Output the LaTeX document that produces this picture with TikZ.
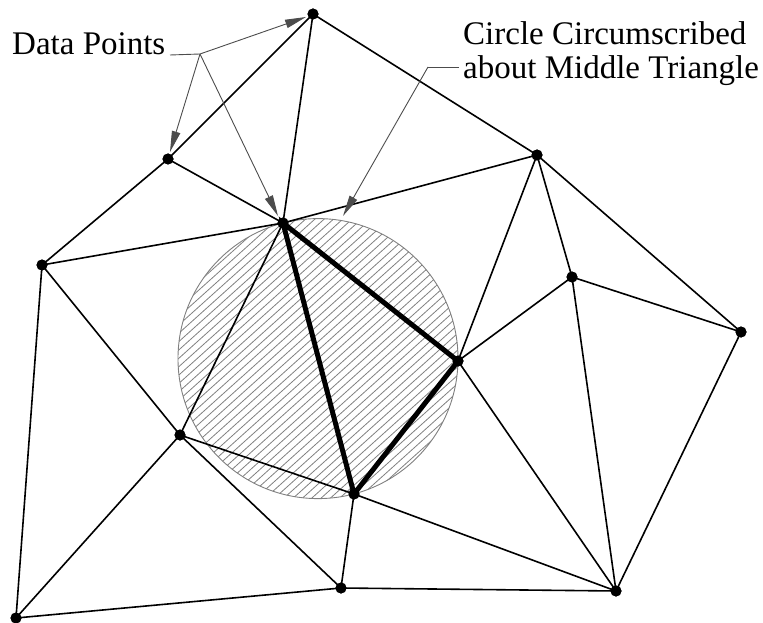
\documentclass[tikz,border=0pt]{standalone}
\usepackage{fontspec}
\setmainfont{Liberation Serif}
\usetikzlibrary{arrows.meta,calc}
\tikzset{
  dot/.style={circle,fill=black,inner sep=0pt,minimum size=11pt},
  edge/.style={line width=1.6pt,black},
  thickedge/.style={line width=5pt,black,line cap=round},
  hatch/.style={line width=0.8pt,black!50},
  leader/.style={line width=0.9pt,black!70},
  arrowleader/.style={leader,-{Triangle[length=21pt,width=8.5pt]}},
  label/.style={inner sep=0pt,font=\fontsize{33}{36}\selectfont}
}
\begin{document}
\begin{tikzpicture}[x=1pt,y=-1pt]
\useasboundingbox (0,0) rectangle (763,623);
% hatched circle
\coordinate (O) at (318,358.6);
\begin{scope}
  \clip (O) circle (140);
  \foreach \k in {-26,...,26}
    \draw[hatch] ([xshift=\k*9.3pt]O) ++(-200,180) -- ++(400,-360);
\end{scope}
\draw[line width=0.9pt,black!50] (O) circle (140);
% data points
\node[dot] (A) at (313,14) {};
\node[dot] (B) at (168,159) {};
\node[dot] (C) at (537,155) {};
\node[dot] (D) at (283,223) {};
\node[dot] (E) at (42,265) {};
\node[dot] (F) at (572,277) {};
\node[dot] (G) at (741,332) {};
\node[dot] (H) at (458,361) {};
\node[dot] (I) at (180,435) {};
\node[dot] (J) at (354,494) {};
\node[dot] (K) at (341,588) {};
\node[dot] (L) at (616,591) {};
\node[dot] (M) at (16,618) {};
% triangulation
\draw[edge] (A.center) -- (B.center) (A.center) -- (D.center) (A.center) -- (C.center)
  (B.center) -- (D.center) (B.center) -- (E.center)
  (E.center) -- (D.center) (D.center) -- (C.center)
  (C.center) -- (F.center) (C.center) -- (H.center) (C.center) -- (G.center)
  (F.center) -- (G.center) (F.center) -- (H.center) (F.center) -- (L.center) (G.center) -- (L.center)
  (D.center) -- (I.center) (E.center) -- (I.center) (E.center) -- (M.center)
  (I.center) -- (M.center) (I.center) -- (K.center) (I.center) -- (J.center)
  (J.center) -- (K.center) (J.center) -- (L.center) (H.center) -- (L.center)
  (K.center) -- (L.center) (M.center) -- (K.center);
\draw[thickedge] (D.center) -- (H.center) -- (J.center) -- cycle;
% redraw dots on top
\foreach \p in {A,B,C,D,E,F,G,H,I,J,K,L,M}
  \fill (\p.center) circle (5.5);
% labels
\node[label,anchor=base west] (dp) at (12,55) {Data Points};
\node[label,anchor=base west] (c1) at (463,45) {Circle Circumscribed};
\node[label,anchor=base west] (c2) at (463,79) {about Middle Triangle};
% leaders
\coordinate (dpk) at (200,54);
\coordinate (tA) at (306,17);
\coordinate (tB) at (170,152);
\coordinate (tD) at (278,216);
\draw[leader] (170,55) -- (dpk);
\draw[arrowleader] (dpk) -- (tA);
\draw[arrowleader] (dpk) -- (tB);
\draw[arrowleader] (dpk) -- (tD);
\coordinate (ck) at (428,67);
\coordinate (tc) at (343,216);
\draw[leader] (459,67) -- (ck);
\draw[arrowleader] (ck) -- (tc);
\end{tikzpicture}
\end{document}
